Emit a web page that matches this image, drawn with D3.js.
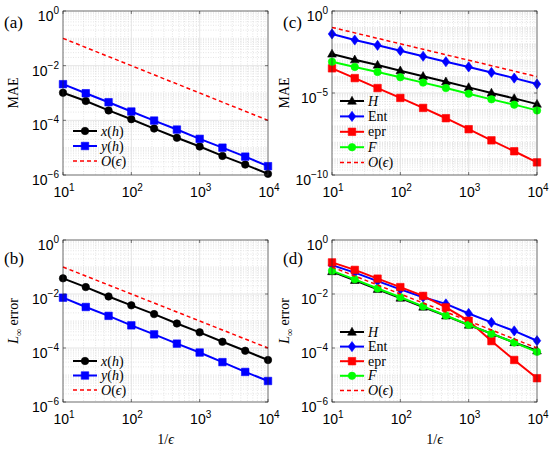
<!DOCTYPE html>
<html><head><meta charset="utf-8">
<script src="https://cdn.jsdelivr.net/npm/d3@7"></script>
<style>body{margin:0;background:#fff}svg{display:block}</style>
</head><body>
<script>
// ---- data ----
const xs = [10, 21.54, 46.42, 100, 215.4, 464.2, 1000, 2154, 4642, 10000];
const xTicks = [10, 100, 1000, 10000];
const xTickExp = ["1", "2", "3", "4"];
const yTicksA = [1, 1e-2, 1e-4, 1e-6];
const yTickExpA = ["0", "−2", "−4", "−6"];
const yTicksC = [1, 1e-5, 1e-10];
const yTickExpC = ["0", "−5", "−10"];
const oEps = [0.1, 0.0464, 0.0215, 0.01, 0.00464, 0.00215, 0.001, 4.64e-4, 2.15e-4, 1e-4];

// (a) MAE
const aX = [1.02e-3, 5.1e-4, 2.3e-4, 1.1e-4, 5.0e-5, 2.3e-5, 1.1e-5, 5.0e-6, 2.4e-6, 1.1e-6];
const aY = [2.1e-3, 9.8e-4, 4.6e-4, 2.1e-4, 9.8e-5, 4.6e-5, 2.1e-5, 1.0e-5, 4.7e-6, 2.1e-6];
// (b) L-inf
const bX = [3.8e-2, 1.8e-2, 8.1e-3, 3.8e-3, 1.8e-3, 8.1e-4, 3.8e-4, 1.7e-4, 7.9e-5, 3.6e-5];
const bY = [7.3e-3, 3.3e-3, 1.55e-3, 6.9e-4, 3.2e-4, 1.45e-4, 6.8e-5, 3.0e-5, 1.3e-5, 6.0e-6];
// (c) MAE
const cH = [2.4e-3, 1.07e-3, 5.1e-4, 2.3e-4, 1.05e-4, 4.9e-5, 2.2e-5, 1.0e-5, 4.7e-6, 2.1e-6];
const cEnt = [4.0e-2, 1.7e-2, 8.1e-3, 3.8e-3, 1.74e-3, 8.1e-4, 3.9e-4, 1.8e-4, 8.1e-5, 3.5e-5];
const cEpr = [3.2e-4, 8.1e-5, 2.0e-5, 5.0e-6, 1.23e-6, 2.9e-7, 6.2e-8, 1.3e-8, 2.8e-9, 5.9e-10];
const cF = [8.1e-4, 3.9e-4, 1.9e-4, 9.1e-5, 4.3e-5, 2.0e-5, 9.1e-6, 4.1e-6, 1.95e-6, 8.7e-7];
// (d) L-inf
const dH = [0.068, 0.032, 0.015, 7.1e-3, 3.3e-3, 1.55e-3, 7.1e-4, 3.4e-4, 1.6e-4, 7.9e-5];
const dEnt = [0.117, 0.062, 0.030, 0.0148, 7.6e-3, 4.3e-3, 1.9e-3, 8.9e-4, 4.3e-4, 1.86e-4];
const dEpr = [0.148, 0.078, 0.037, 0.018, 8.5e-3, 3.2e-3, 1.02e-3, 1.8e-4, 3.6e-5, 7.6e-6];
const dF = [0.072, 0.035, 0.016, 7.6e-3, 3.5e-3, 1.6e-3, 7.2e-4, 3.4e-4, 1.6e-4, 7.2e-5];

const W = 550, H = 449;
const svg = d3.select("body").append("svg").attr("width", W).attr("height", H);
const SANS = "'Liberation Sans', Arial, Helvetica, sans-serif";
const SERIF = "'Liberation Serif', 'Times New Roman', serif";
const MS = 7.5;

function markerPath(type, s) {
  if (type === "circle") return d3.symbol(d3.symbolCircle, s * s * 0.78)();
  if (type === "square") return `M${-s/2},${-s/2}h${s}v${s}h${-s}Z`;
  if (type === "diamond") return `M0,${-s*0.68}L${s*0.5},0L0,${s*0.68}L${-s*0.5},0Z`;
  if (type === "triangle") return `M0,${-s*0.62}L${s*0.58},${s*0.42}L${-s*0.58},${s*0.42}Z`;
  return "";
}

function richText(sel, parts) {
  parts.forEach(p => {
    const t = sel.append("tspan").text(p.t);
    if (p.i) t.attr("font-style", "italic");
    if (p.sub) t.attr("font-size", p.sub).attr("dy", p.dy);
    if (p.back) t.attr("dy", p.back);
  });
}

function drawPanel(cfg) {
  const g = svg.append("g");
  const x = d3.scaleLog().domain([10, 1e4]).range([cfg.x0, cfg.x1]);
  const y = d3.scaleLog().domain([cfg.ymin, 1]).range([cfg.y1, cfg.y0]);
  const e0 = Math.round(Math.log10(cfg.ymin));
  const gx = g.append("g");
  for (let k = 1; k < 4; k++) for (let m = 1; m <= 9; m++) {
    const v = m * Math.pow(10, k);
    if (m === 1 && xTicks.includes(v)) continue;
    gx.append("line").attr("x1", x(v)).attr("x2", x(v)).attr("y1", cfg.y0).attr("y2", cfg.y1)
      .attr("stroke", "#d4d4d4").attr("stroke-width", 0.6).attr("stroke-dasharray", "1,1.5");
  }
  for (let k = e0; k < 0; k++) for (let m = 1; m <= 9; m++) {
    const v = m * Math.pow(10, k);
    if (m === 1 && cfg.yTicks.some(t => Math.abs(Math.log10(t) - k) < 1e-9)) continue;
    gx.append("line").attr("x1", cfg.x0).attr("x2", cfg.x1).attr("y1", y(v)).attr("y2", y(v))
      .attr("stroke", "#d4d4d4").attr("stroke-width", 0.6).attr("stroke-dasharray", "1,1.5");
  }
  xTicks.forEach(v => gx.append("line").attr("x1", x(v)).attr("x2", x(v)).attr("y1", cfg.y0).attr("y2", cfg.y1)
    .attr("stroke", "#dadada").attr("stroke-width", 0.7));
  cfg.yTicks.forEach(v => gx.append("line").attr("x1", cfg.x0).attr("x2", cfg.x1).attr("y1", y(v)).attr("y2", y(v))
    .attr("stroke", "#dadada").attr("stroke-width", 0.7));

  cfg.series.forEach(s => {
    const line = d3.line().x((d, i) => x(xs[i])).y(d => y(d));
    g.append("path").attr("d", line(s.v)).attr("fill", "none").attr("stroke", s.c)
      .attr("stroke-width", s.dash ? 1.5 : 2).attr("stroke-dasharray", s.dash ? "4,3" : null);
    if (s.m) s.v.forEach((d, i) => {
      g.append("path").attr("d", markerPath(s.m, MS)).attr("transform", `translate(${x(xs[i])},${y(d)})`)
        .attr("fill", s.c).attr("stroke", s.c).attr("stroke-width", 0.6);
    });
  });

  const axc = "#262626";
  g.append("rect").attr("x", cfg.x0).attr("y", cfg.y0).attr("width", cfg.x1 - cfg.x0).attr("height", cfg.y1 - cfg.y0)
    .attr("fill", "none").attr("stroke", axc).attr("stroke-width", 0.6);
  xTicks.forEach(v => {
    g.append("line").attr("x1", x(v)).attr("x2", x(v)).attr("y1", cfg.y1).attr("y2", cfg.y1 - 3).attr("stroke", axc).attr("stroke-width", 0.6);
    g.append("line").attr("x1", x(v)).attr("x2", x(v)).attr("y1", cfg.y0).attr("y2", cfg.y0 + 3).attr("stroke", axc).attr("stroke-width", 0.6);
  });
  cfg.yTicks.forEach(v => {
    g.append("line").attr("x1", cfg.x0).attr("x2", cfg.x0 + 3).attr("y1", y(v)).attr("y2", y(v)).attr("stroke", axc).attr("stroke-width", 0.6);
    g.append("line").attr("x1", cfg.x1).attr("x2", cfg.x1 - 3).attr("y1", y(v)).attr("y2", y(v)).attr("stroke", axc).attr("stroke-width", 0.6);
  });
  xTicks.forEach((v, i) => {
    const t = g.append("text").attr("x", x(v) + 1).attr("y", cfg.y1 + 22).attr("text-anchor", "middle")
      .attr("font-family", SANS).attr("font-size", 14).attr("fill", "#000");
    t.append("tspan").text("10");
    t.append("tspan").text(xTickExp[i]).attr("font-size", 10).attr("dy", -6);
  });
  cfg.yTicks.forEach((v, i) => {
    const t = g.append("text").attr("x", cfg.x0 - 4).attr("y", y(v) + 10).attr("text-anchor", "end")
      .attr("font-family", SANS).attr("font-size", 14).attr("fill", "#000");
    t.append("tspan").text("10");
    t.append("tspan").text(cfg.yTickExp[i]).attr("font-size", 10).attr("dy", -7);
  });
  const yl = g.append("text").attr("transform", `translate(${cfg.ylx},${(cfg.y0 + cfg.y1) / 2}) rotate(-90)`)
    .attr("text-anchor", "middle").attr("font-family", SERIF).attr("font-size", 14).attr("fill", "#000");
  richText(yl, cfg.ylabel);
  if (cfg.xlabel) {
    const xl = g.append("text").attr("x", (cfg.x0 + cfg.x1) / 2).attr("y", cfg.y1 + 42).attr("text-anchor", "middle")
      .attr("font-family", SERIF).attr("font-size", 14).attr("fill", "#000");
    richText(xl, [{t: "1/"}, {t: "ϵ", i: true}]);
  }
  g.append("text").attr("x", cfg.px).attr("y", cfg.py).attr("font-family", SERIF).attr("font-size", 17).attr("fill", "#000").text(cfg.plabel);
  cfg.series.forEach((s, i) => {
    const ly = cfg.ly0 + i * cfg.ldy;
    g.append("line").attr("x1", cfg.lx).attr("x2", cfg.lx + 24).attr("y1", ly).attr("y2", ly).attr("stroke", s.c)
      .attr("stroke-width", s.dash ? 1.5 : 2).attr("stroke-dasharray", s.dash ? "4,3" : null);
    if (s.m) g.append("path").attr("d", markerPath(s.m, MS)).attr("transform", `translate(${cfg.lx + 12},${ly})`)
      .attr("fill", s.c).attr("stroke", s.c).attr("stroke-width", 0.6);
    const t = g.append("text").attr("x", cfg.lx + 28).attr("y", ly + 4.5).attr("font-family", SERIF).attr("font-size", 14).attr("fill", "#000");
    richText(t, s.label);
  });
}

const labOeps = [{t: "O", i: true}, {t: "("}, {t: "ϵ", i: true}, {t: ")"}];
const labMAE = [{t: "MAE"}];
const labLinf = [{t: "L", i: true}, {t: "∞", sub: 10, dy: 4}, {t: " error", back: -4}];

drawPanel({
  x0: 63, x1: 268, y0: 11, y1: 175, ymin: 1e-6, yTicks: yTicksA, yTickExp: yTickExpA,
  ylabel: labMAE, ylx: 18, plabel: "(a)", px: 4, py: 28, lx: 73, ly0: 131, ldy: 15,
  series: [
    {v: aX, c: "#000000", m: "circle", label: [{t: "x", i: true}, {t: "("}, {t: "h", i: true}, {t: ")"}]},
    {v: aY, c: "#0000ff", m: "square", label: [{t: "y", i: true}, {t: "("}, {t: "h", i: true}, {t: ")"}]},
    {v: oEps, c: "#ff0000", dash: true, label: labOeps}
  ]
});
drawPanel({
  x0: 332, x1: 537, y0: 11, y1: 175, ymin: 1e-10, yTicks: yTicksC, yTickExp: yTickExpC,
  ylabel: labMAE, ylx: 289, plabel: "(c)", px: 283, py: 28, lx: 340, ly0: 101, ldy: 15.4,
  series: [
    {v: cH, c: "#000000", m: "triangle", label: [{t: "H", i: true}]},
    {v: cEnt, c: "#0000ff", m: "diamond", label: [{t: "Ent"}]},
    {v: cEpr, c: "#ff0000", m: "square", label: [{t: "epr"}]},
    {v: cF, c: "#00ff00", m: "circle", label: [{t: "F", i: true}]},
    {v: oEps, c: "#ff0000", dash: true, label: labOeps}
  ]
});
drawPanel({
  x0: 63, x1: 268, y0: 240, y1: 402, ymin: 1e-6, yTicks: yTicksA, yTickExp: yTickExpA,
  ylabel: labLinf, ylx: 18, plabel: "(b)", px: 4, py: 264, lx: 73, ly0: 361, ldy: 14.5, xlabel: true,
  series: [
    {v: bX, c: "#000000", m: "circle", label: [{t: "x", i: true}, {t: "("}, {t: "h", i: true}, {t: ")"}]},
    {v: bY, c: "#0000ff", m: "square", label: [{t: "y", i: true}, {t: "("}, {t: "h", i: true}, {t: ")"}]},
    {v: oEps, c: "#ff0000", dash: true, label: labOeps}
  ]
});
drawPanel({
  x0: 332, x1: 537, y0: 240, y1: 402, ymin: 1e-6, yTicks: yTicksA, yTickExp: yTickExpA,
  ylabel: labLinf, ylx: 289, plabel: "(d)", px: 283, py: 264, lx: 340, ly0: 332, ldy: 14.6, xlabel: true,
  series: [
    {v: dH, c: "#000000", m: "triangle", label: [{t: "H", i: true}]},
    {v: dEnt, c: "#0000ff", m: "diamond", label: [{t: "Ent"}]},
    {v: dEpr, c: "#ff0000", m: "square", label: [{t: "epr"}]},
    {v: dF, c: "#00ff00", m: "circle", label: [{t: "F", i: true}]},
    {v: oEps, c: "#ff0000", dash: true, label: labOeps}
  ]
});
</script>
</body></html>
